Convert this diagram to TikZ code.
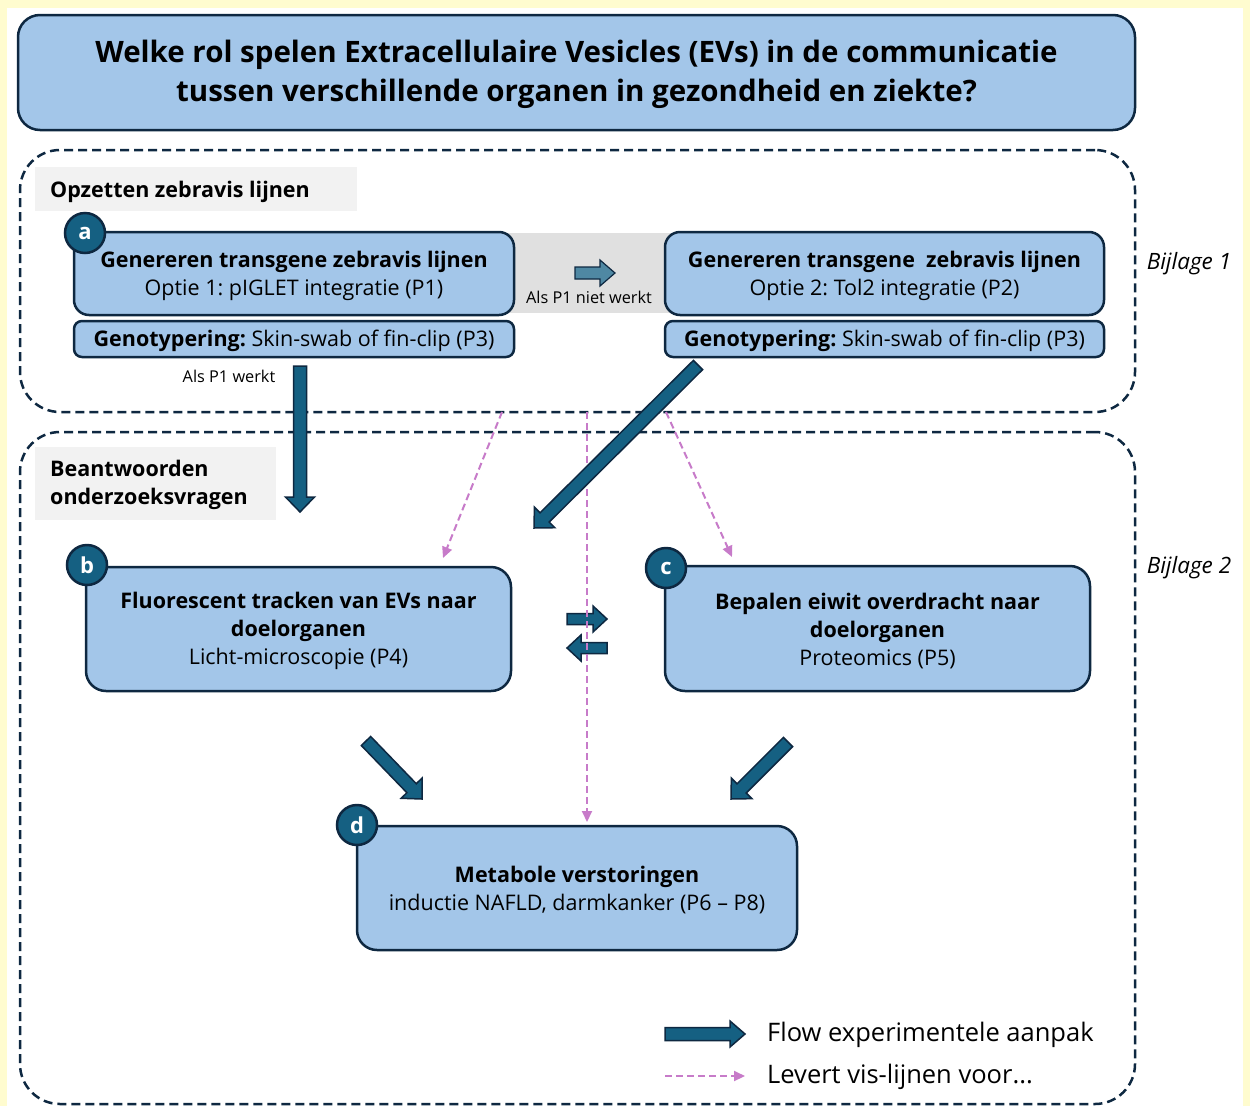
\documentclass[tikz,border=0pt]{standalone}
\usepackage{fontspec}
\setmainfont{Open Sans}
\usetikzlibrary{calc,arrows.meta}
\definecolor{bgyellow}{HTML}{FFFCCF}
\definecolor{navy}{HTML}{0E2841}
\definecolor{lblue}{HTML}{A3C6E9}
\definecolor{tealc}{HTML}{156082}
\definecolor{tealmid}{HTML}{4F88A3}
\definecolor{lgray}{HTML}{F2F2F2}
\definecolor{mgray}{HTML}{E0E0E0}
\definecolor{pinkc}{HTML}{C77BC9}
\newcommand{\fsTitle}{\fontsize{29.5}{39}\selectfont}
\newcommand{\fsBox}{\fontsize{21.5}{28}\selectfont}
\newcommand{\fsSmall}{\fontsize{16.3}{18}\selectfont}
\newcommand{\fsLeg}{\fontsize{25.5}{30}\selectfont}
\newcommand{\fsBij}{\fontsize{22.5}{28}\selectfont}
\newcommand{\blockarrow}[6][]{%
  \coordinate (tmpH) at ($(#3)!#6!(#2)$);
  \path[barrow,#1] ($(#2)!#4!90:(#3)$) -- ($(tmpH)!#4!90:(#3)$) -- ($(tmpH)!#5!90:(#3)$) -- (#3)
    -- ($(tmpH)!#5!-90:(#3)$) -- ($(tmpH)!#4!-90:(#3)$) -- ($(#2)!#4!-90:(#3)$) -- cycle;}
\frenchspacing
\begin{document}
\begin{tikzpicture}[x=1pt,y=-1pt,
  box/.style={draw=navy, line width=2.5pt, fill=lblue, rounded corners=15pt, inner sep=0pt},
  btext/.style={inner sep=0pt, align=center, font=\fsBox},
  dframe/.style={draw=navy, line width=2.5pt, dash pattern=on 9pt off 5pt, rounded corners=40pt, inner sep=0pt},
  badge/.style={circle, draw=navy, line width=2.5pt, fill=tealc, text=white, minimum size=40pt, inner sep=0pt, font=\bfseries\fontsize{22}{22}\selectfont},
  barrow/.style={draw=navy, line width=1.5pt, fill=tealc, line join=miter},
  visline/.style={draw=pinkc, line width=2pt, dash pattern=on 7pt off 4pt, -{Triangle[length=11pt,width=10pt]}},
  secbg/.style={fill=lgray, inner sep=0pt},
  sectext/.style={inner sep=0pt, align=left, anchor=west, font=\fsBox\bfseries},
  note/.style={inner sep=0pt, font=\fsSmall}]
\fill[bgyellow] (0,0) rectangle (1250,1106);
\fill[white] (7,8) rectangle (1243,1106);
\useasboundingbox (0,0) rectangle (1250,1106);

% title
\node[box, rounded corners=22pt, minimum width=1117pt, minimum height=115pt] (title) at (576.5,72.5) {};
\node[inner sep=0pt, align=center, font=\fsTitle\bfseries] (titletext) at ($(title)+(0,2)$)
  {Welke rol spelen Extracellulaire Vesicles (EVs) in de communicatie\\tussen verschillende organen in gezondheid en ziekte?};

% frames
\node[dframe, minimum width=1115pt, minimum height=262pt] (frame1) at (577.5,281) {};
\node[dframe, minimum width=1115pt, minimum height=672pt] (frame2) at (577.5,768) {};

% section labels
\node[secbg, minimum width=322pt, minimum height=44pt] (sec1) at (196,189) {};
\node[sectext] (sec1t) at (50,191.5) {Opzetten zebravis lijnen};
\node[secbg, minimum width=241pt, minimum height=73pt] (sec2) at (155.5,483.5) {};
\node[sectext] (sec2t) at (50,485) {Beantwoorden\\onderzoeksvragen};

% gray band between a-boxes
\fill[mgray] (500,233) rectangle (680,313);

% boxes a
\node[box, minimum width=440pt, minimum height=83pt] (a1) at (294,273.5) {};
\node[btext] (a1t) at ($(a1)+(0,2.5)$) {{\bfseries Genereren transgene zebravis lijnen}\\Optie 1: pIGLET integratie (P1)};
\node[box, minimum width=439pt, minimum height=83pt] (a2) at (884.5,273.5) {};
\node[btext] (a2t) at ($(a2)+(0,2.5)$) {{\bfseries Genereren transgene\ \ zebravis lijnen}\\Optie 2: Tol2 integratie (P2)};
\node[box, rounded corners=8pt, minimum width=440pt, minimum height=36pt] (g1) at (294,339) {};
\node[btext] (g1t) at ($(g1)+(0,2)$) {{\bfseries Genotypering:} Skin-swab of fin-clip (P3)};
\node[box, rounded corners=8pt, minimum width=439pt, minimum height=36pt] (g2) at (884.5,339) {};
\node[btext] (g2t) at ($(g2)+(0,2)$) {{\bfseries Genotypering:} Skin-swab of fin-clip (P3)};
\node[badge] (ba) at (85,233) {a};

% small arrow P1 -> P2
\coordinate (sa1) at (575,273);
\coordinate (sa2) at (615,273);
\blockarrow[fill=tealmid, line width=1.2pt]{sa1}{sa2}{6pt}{13pt}{15pt}
\node[note] (nietwerkt) at (589,297) {Als P1 niet werkt};
\node[note] (werkt) at (229,376) {Als P1 werkt};

% boxes b, c, d
\node[box, rounded corners=20pt, minimum width=425pt, minimum height=124pt] (b) at (298.5,629) {};
\node[btext] (bt) at ($(b)+(0,2)$) {{\bfseries Fluorescent tracken van EVs naar}\\{\bfseries doelorganen}\\Licht-microscopie (P4)};
\node[box, rounded corners=20pt, minimum width=425pt, minimum height=125pt] (c) at (877.5,628.5) {};
\node[btext] (ct) at ($(c)+(0,2.5)$) {{\bfseries Bepalen eiwit overdracht naar}\\{\bfseries doelorganen}\\Proteomics (P5)};
\node[box, rounded corners=20pt, minimum width=440pt, minimum height=124pt] (d) at (577,888) {};
\node[btext] (dt) at ($(d)+(0,2.5)$) {{\bfseries Metabole verstoringen}\\inductie NAFLD, darmkanker (P6 -- P8)};
\node[badge] (bb) at (87,565) {b};
\node[badge] (bc) at (666,568) {c};
\node[badge] (bd) at (357,825) {d};

% Bijlage labels
\node[inner sep=0pt, font=\fsBij\itshape] (bij1) at (1189,264) {Bijlage 1};
\node[inner sep=0pt, font=\fsBij\itshape] (bij2) at (1189,568) {Bijlage 2};

% small double arrows b <-> c
\coordinate (lr1) at (567,619);
\coordinate (lr2) at (607,619);
\coordinate (rl1) at (607,648);
\coordinate (rl2) at (567,648);
\blockarrow{lr1}{lr2}{5.5pt}{13pt}{14pt}
\blockarrow{rl1}{rl2}{5.5pt}{13pt}{14pt}

% pink vis-lijnen lines
\coordinate (v1s) at (502,412);
\coordinate (v1e) at (443,558);
\coordinate (v2s) at (587,412);
\coordinate (v2e) at (587,822);
\coordinate (v3s) at (666,412);
\coordinate (v3e) at (732,557);
\draw[visline] (v1s) -- (v1e);
\draw[visline] (v2s) -- (v2e);
\draw[visline] (v3s) -- (v3e);

% big flow arrows
\coordinate (f1s) at (300,366);
\coordinate (f1e) at (300,512);
\coordinate (f2s) at (698,365);
\coordinate (f2e) at (534,528);
\coordinate (f3s) at (366,741);
\coordinate (f3e) at (422,799);
\coordinate (f4s) at (788,742);
\coordinate (f4e) at (731,799);
\blockarrow{f1s}{f1e}{6.5pt}{14.5pt}{15pt}
\blockarrow{f2s}{f2e}{6.5pt}{14.5pt}{15pt}
\blockarrow{f3s}{f3e}{6.5pt}{14.5pt}{15pt}
\blockarrow{f4s}{f4e}{6.5pt}{14.5pt}{15pt}

% legend
\coordinate (l1s) at (665,1034);
\coordinate (l1e) at (745,1034);
\coordinate (l2s) at (665,1076);
\coordinate (l2e) at (745,1076);
\blockarrow{l1s}{l1e}{6.5pt}{13pt}{15pt}
\draw[visline] (l2s) -- (l2e);
\node[anchor=west, inner sep=0pt, font=\fsLeg] (leg1) at (767,1035) {Flow experimentele aanpak};
\node[anchor=west, inner sep=0pt, font=\fsLeg] (leg2) at (767,1077) {Levert vis-lijnen voor...};
\end{tikzpicture}
\end{document}
